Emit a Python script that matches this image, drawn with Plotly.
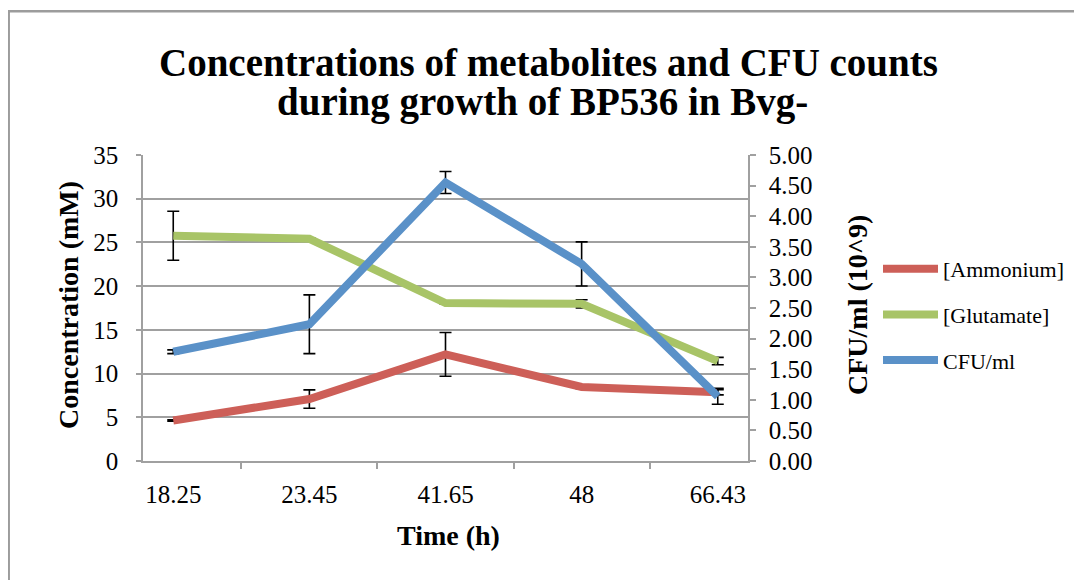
import plotly.graph_objects as go

time_labels = ["18.25", "23.45", "41.65", "48", "66.43"]
ammonium = [4.64, 7.09, 12.19, 8.47, 7.86]
ammonium_err = [0.08, 1.05, 2.5, 0.2, 0.3]
glutamate = [25.77, 25.42, 18.06, 17.98, 11.43]
glutamate_err = [2.8, 0.1, 0.1, 0.46, 0.42]
cfu = [1.785, 2.234, 4.55, 3.22, 1.057]
cfu_err = [0.03, 0.48, 0.18, 0.36, 0.13]

FONT = "Liberation Serif"
GRAY = "#A0A0A0"

# page offset of the figure (browser body margin)
OFF = 8
# plot-area geometry in page pixels
PL, PR, PT, PB = 143, 748, 155, 461
L, R, T, B = PL - OFF, PR - OFF, PT - OFF, PB - OFF
W, H = 1082 - OFF, 580 - OFF


def px(x):
    return (x - OFF - L) / (R - L)


def py(y):
    return (B - (y - OFF)) / (B - T)


fig = go.Figure()

def err(vals):
    return dict(type="data", array=vals, visible=True, color="black", thickness=1.6, width=6)

fig.add_trace(go.Scatter(x=time_labels, y=ammonium, name="[Ammonium]", mode="lines",
                         line=dict(color="#CD5F58", width=8), error_y=err(ammonium_err),
                         legendgroup="a"))
fig.add_trace(go.Scatter(x=time_labels, y=glutamate, name="[Glutamate]", mode="lines",
                         line=dict(color="#A8C467", width=8), error_y=err(glutamate_err),
                         legendgroup="g"))
fig.add_trace(go.Scatter(x=time_labels, y=cfu, name="CFU/ml", mode="lines",
                         line=dict(color="#5A91C8", width=8), error_y=err(cfu_err),
                         yaxis="y2", legendgroup="c"))

tickfont = dict(family=FONT, size=25, color="black")
titlefont = dict(family=FONT, size=28, color="black")

fig.update_layout(
    width=W, height=H,
    margin=dict(l=L, r=W - R, t=T, b=H - B, pad=0),
    plot_bgcolor="white", paper_bgcolor="white",
    showlegend=True,
    legend=dict(x=px(878), y=py(248), xanchor="left", yanchor="top",
                font=dict(family=FONT, size=22, color="black"),
                tracegroupgap=14, traceorder="grouped", itemwidth=55,
                bgcolor="rgba(0,0,0,0)"),
    xaxis=dict(type="category", showgrid=False, showline=True, linecolor=GRAY, linewidth=1.5,
               ticks="outside", ticklen=6, tickcolor=GRAY, tickwidth=1.5, tickson="boundaries",
               tickfont=tickfont, ticklabelstandoff=10),
    yaxis=dict(range=[0, 35], dtick=5, showgrid=True, gridcolor=GRAY, gridwidth=1.5,
               showline=True, linecolor=GRAY, linewidth=1.5, zeroline=False,
               ticks="outside", ticklen=5, tickcolor=GRAY, tickwidth=1.5,
               tickfont=tickfont, ticklabelstandoff=13),
    yaxis2=dict(range=[0, 5], dtick=0.5, tickformat=".2f", overlaying="y", side="right",
                showgrid=False, showline=True, linecolor=GRAY, linewidth=1.5, zeroline=False,
                ticks="outside", ticklen=6, tickcolor=GRAY, tickwidth=1.5,
                tickfont=tickfont, ticklabelstandoff=8),
    shapes=[dict(type="rect", xref="paper", yref="paper",
                 x0=px(8.7), x1=px(1100), y0=py(600), y1=py(11.2),
                 line=dict(color="#9C9C9C", width=2.5), layer="below")],
    annotations=[
        dict(text="<b>Concentrations of metabolites and CFU counts</b>", x=px(548), y=py(63),
             xref="paper", yref="paper", showarrow=False, xanchor="center", yanchor="middle",
             font=dict(family=FONT, size=39, color="black")),
        dict(text="<b>during growth of BP536 in Bvg-</b>", x=px(542), y=py(102),
             xref="paper", yref="paper", showarrow=False, xanchor="center", yanchor="middle",
             font=dict(family=FONT, size=39, color="black")),
        dict(text="<b>Concentration (mM)</b>", x=px(68), y=py(305), textangle=-90,
             xref="paper", yref="paper", showarrow=False, xanchor="center", yanchor="middle",
             font=titlefont),
        dict(text="<b>CFU/ml (10^9)</b>", x=px(857), y=py(305), textangle=-90,
             xref="paper", yref="paper", showarrow=False, xanchor="center", yanchor="middle",
             font=titlefont),
        dict(text="<b>Time (h)</b>", x=px(448.5), y=py(535),
             xref="paper", yref="paper", showarrow=False, xanchor="center", yanchor="middle",
             font=titlefont),
    ],
)

fig.write_html("out.html")
